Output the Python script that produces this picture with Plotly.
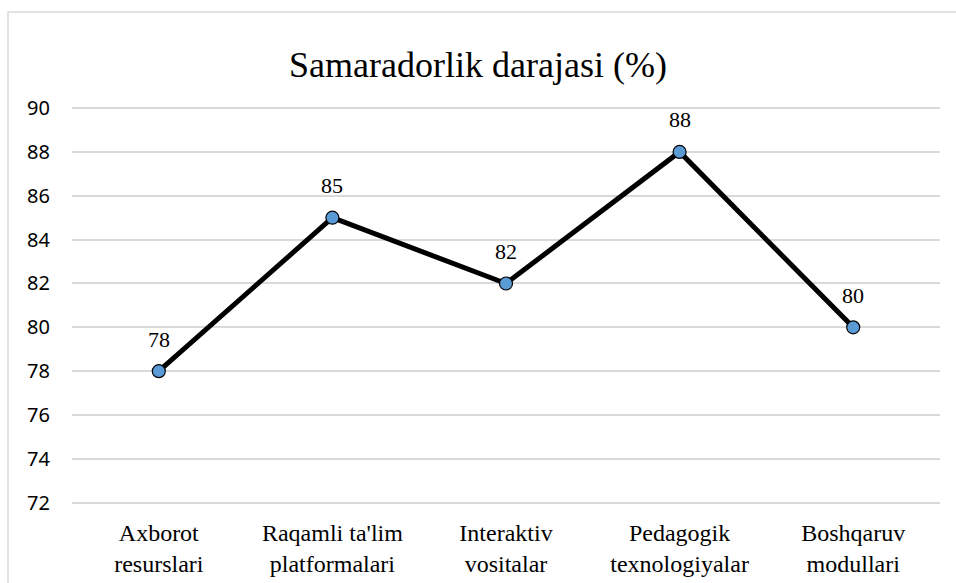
import plotly.graph_objects as go

categories = ["Axborot<br>resurslari", "Raqamli ta'lim<br>platformalari", "Interaktiv<br>vositalar",
              "Pedagogik<br>texnologiyalar", "Boshqaruv<br>modullari"]
values = [78, 85, 82, 88, 80]
y_ticks = [72, 74, 76, 78, 80, 82, 84, 86, 88, 90]
title = "Samaradorlik darajasi (%)"

SERIF = "Liberation Serif, Times New Roman, serif"
W, H = 956, 583
L, R, T, B = 72, 16, 107, 77
pw, ph = W - L - R, H - T - B

fig = go.Figure()
fig.add_trace(go.Scatter(
    x=list(range(len(categories))), y=values, mode="lines+markers",
    line=dict(color="black", width=5),
    marker=dict(size=13, color="#5b9bd5", line=dict(color="black", width=1.2)),
    hoverinfo="skip", showlegend=False,
))
for i, v in enumerate(values):
    fig.add_annotation(x=i, y=v, text=str(v), showarrow=False, yshift=32,
                       font=dict(family=SERIF, size=22, color="black"))

fig.add_shape(type="rect", xref="paper", yref="paper",
              x0=(8 - L) / pw, x1=(W + 10 - L) / pw,
              y0=-(H + 10 - T - ph) / ph, y1=(H - 12 - B) / ph,
              line=dict(color="#d9d9d9", width=1.5), layer="below")

fig.update_layout(
    width=W, height=H, margin=dict(l=L, r=R, t=T, b=B, autoexpand=False),
    paper_bgcolor="white", plot_bgcolor="white",
    title=dict(text=title, x=0.5, xanchor="center", y=1 - 64 / H, yanchor="middle",
               font=dict(family=SERIF, size=36, color="black")),
    xaxis=dict(range=[-0.5, len(categories) - 0.5], tickvals=list(range(len(categories))),
               ticktext=categories, showgrid=False, zeroline=False, showline=False,
               ticks="", tickfont=dict(family=SERIF, size=24, color="black"),
               ticklabelstandoff=10, automargin=False),
    yaxis=dict(range=[71.85, 90.05], tickvals=y_ticks, showgrid=True, gridcolor="#d9d9d9",
               gridwidth=1.5, zeroline=False, showline=False, ticks="",
               tickfont=dict(family="Noto Sans", size=20, color="black"),
               ticklabelstandoff=21, automargin=False),
)
fig.write_html("out.html", config={"displayModeBar": False},
               post_script="document.body.style.margin='0';document.body.style.overflow='hidden';")
